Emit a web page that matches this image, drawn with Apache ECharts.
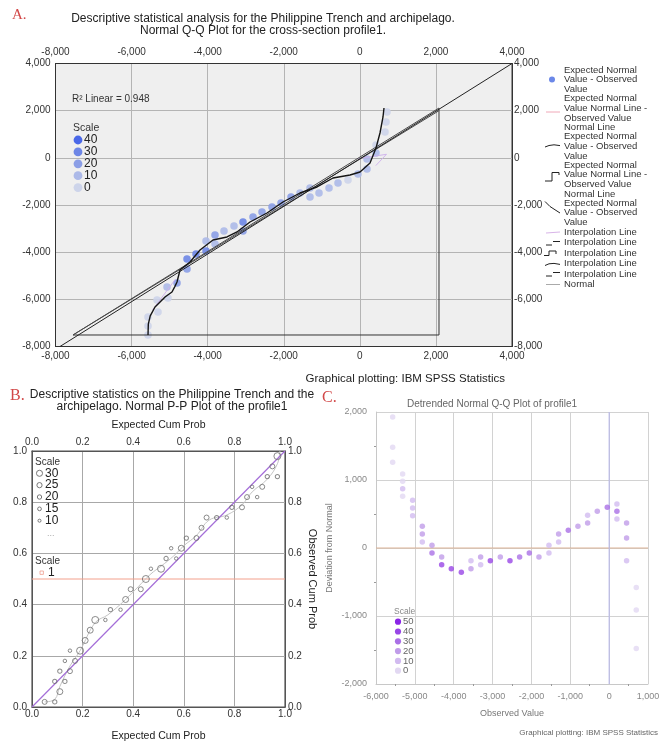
<!DOCTYPE html>
<html><head><meta charset="utf-8">
<script src="https://cdn.jsdelivr.net/npm/echarts@6/dist/echarts.min.js"></script>
<style>html,body{margin:0;padding:0;background:#fff}#c{width:667px;height:743px}</style>
</head><body><div id="c"></div>
<script>
// ---------- Panel A : Normal Q-Q plot ----------
const qqTickMin = -8000, qqTickMax = 4000, qqTickStep = 2000;
// [observed value, expected normal value, scale]
const qqPoints = [
 [-5568,-7512,0],[-5568,-7130,0],[-5568,-6748,0],[-5306,-6536,0],[-5332,-6028,0],
 [-5043,-5943,0],[-5069,-5476,10],[-4806,-5307,20],[-4543,-4713,20],[-4543,-4289,30],
 [-4307,-4077,30],[-4044,-3950,30],[-4044,-3526,10],[-3807,-3653,10],[-3807,-3272,20],
 [-3571,-3102,10],[-3308,-2890,10],[-3071,-2721,30],[-3071,-3102,20],[-2808,-2509,20],
 [-2572,-2296,20],[-2309,-2084,20],[-2072,-1915,20],[-1809,-1661,20],[-1573,-1491,10],
 [-1310,-1661,10],[-1310,-1279,10],[-1073,-1491,10],[-810,-1279,10],[-574,-1067,10],
 [-311,-940,0],[-48,-685,10],[188,-473,10],[188,-49,10],[425,205,10],[425,544,0],
 [662,1096,0],[688,1520,0],[714,1944,0]
];
const qqInterp = [
 [-5568,-7512],[-5560,-7050],[-5510,-6700],[-5384,-6325],[-5121,-5900],[-4938,-5688],
 [-4860,-5450],[-4806,-5264],[-4727,-4756],[-4464,-4416],[-4201,-3908],[-3860,-3484],
 [-3492,-3356],[-3229,-3144],[-2887,-2721],[-2440,-2339],[-2020,-1873],[-1573,-1491],
 [-1126,-1236],[-705,-855],[-258,-728],[5,-601],[268,-219],[425,417],[530,1053],
 [609,1732],[635,2113]
];
const qqFaintA = [[-5450,-6450],[-4850,-5150]];
const qqFaintB = [[-60,-40],[700,150],[420,-330]];
const qqRefLine = [[-7882,-8000],[4000,4000]];
const qqNormalLine1 = [[-7540,-7512],[2081,2113]];
const qqNormalLine2 = [[-7540,-7512],[2081,2000]];
const qqFrame = [[-7540,-7512],[2081,-7512],[2081,2113]];
const qqScaleColors = {0:'#cdd4ea',10:'#acb9e8',20:'#8b9ee6',30:'#6d86e6',40:'#4a68e8'};
const qqScaleLegend = [40,30,20,10,0];
const rSquared = '0.948';

// ---------- Panel B : Normal P-P plot ----------
const ppTickMin = 0, ppTickMax = 1, ppTickStep = 0.2;
// [expected cum prob, observed cum prob, scale]
const ppPoints = [
 [0.05,0.02,20],[0.09,0.02,15],[0.09,0.10,15],[0.11,0.06,25],[0.11,0.14,15],
 [0.13,0.10,15],[0.13,0.18,10],[0.15,0.14,20],[0.15,0.22,10],[0.17,0.18,20],
 [0.19,0.22,30],[0.21,0.26,25],[0.23,0.30,25],[0.25,0.34,30],[0.29,0.34,10],
 [0.31,0.38,15],[0.35,0.38,10],[0.37,0.42,25],[0.39,0.46,20],[0.43,0.46,20],
 [0.45,0.50,30],[0.47,0.54,10],[0.51,0.54,30],[0.53,0.58,15],[0.55,0.62,10],
 [0.57,0.58,10],[0.59,0.62,25],[0.61,0.66,15],[0.65,0.66,20],[0.67,0.70,20],
 [0.69,0.74,20],[0.73,0.74,15],[0.77,0.74,10],[0.79,0.78,15],[0.83,0.78,20],
 [0.85,0.82,20],[0.89,0.82,10],[0.87,0.86,10],[0.91,0.86,20],[0.93,0.90,15],
 [0.97,0.90,15],[0.95,0.94,20],[0.97,0.98,30]
];
const ppInterp = [
 [0.05,0.02],[0.09,0.03],[0.11,0.08],[0.15,0.16],[0.19,0.22],[0.25,0.33],[0.30,0.36],
 [0.37,0.42],[0.42,0.47],[0.47,0.52],[0.51,0.55],[0.56,0.59],[0.60,0.63],[0.65,0.67],
 [0.70,0.73],[0.77,0.75],[0.83,0.79],[0.87,0.84],[0.93,0.89],[0.97,0.95],[0.98,1.0]
];
const ppDiagonal = [[0,0],[1,1]];
const ppRefLine = [[0,0.5],[1,0.5]];
const ppScaleSizes = {30:7,25:6,20:5,15:4.3,10:3.5};
const ppScaleLegend = [30,25,20,15,10];

// ---------- Panel C : Detrended normal Q-Q plot ----------
const dqXMin = -6000, dqXMax = 1000, dqXStep = 1000;
const dqYMin = -2000, dqYMax = 2000, dqYStep = 1000;
// [observed value, deviation from normal, scale]
const dqPoints = [
 [-5571,1926,0],[-5571,1480,0],[-5571,1260,0],[-5314,1088,0],[-5314,980,0],[-5314,873,10],
 [-5314,760,0],[-5057,701,10],[-5057,588,10],[-5057,475,10],[-4808,319,20],[-4808,206,20],
 [-4808,88,10],[-4559,39,20],[-4559,-74,30],[-4310,-132,20],[-4310,-245,40],[-4062,-304,40],
 [-3804,-358,40],[-3556,-186,10],[-3556,-304,20],[-3307,-132,20],[-3307,-245,10],
 [-3058,-186,40],[-2801,-132,20],[-2552,-186,40],[-2304,-132,30],[-2055,-74,30],
 [-1806,-132,20],[-1549,39,10],[-1549,-74,10],[-1300,206,20],[-1300,88,10],[-1051,260,30],
 [-803,319,20],[-554,480,10],[-554,368,20],[-305,539,20],[-48,598,30],[200,647,10],
 [200,539,30],[200,426,10],[449,368,20],[449,147,20],[449,-186,10],[698,-581,0],
 [698,-911,0],[698,-1478,0]
];
const dqZeroX = [[0,-2000],[0,2000]];
const dqZeroY = [[-6000,0],[1000,0]];
const dqScaleColors = {0:'#e2d8f2',10:'#d2bbf0',20:'#c09ce9',30:'#aa70e6',40:'#9846e6',50:'#8a24e6'};
const dqScaleLegend = [50,40,30,20,10,0];

// ---------- helpers ----------
const FONT = '"Liberation Sans", Arial, Helvetica, sans-serif';
const SERIF = '"Liberation Serif", "Times New Roman", serif';
const fmt = v => String(v).replace(/\B(?=(\d{3})+(?!\d))/g, ',');
function txt(x, y, text, size, o) {
  return {type:'text', x, y, silent:true, z:100,
    style:Object.assign({text, fill:'#222', font:size+'px '+FONT, align:'left', verticalAlign:'middle'}, o||{})};
}
function pl(points, stroke, w) {
  return {type:'polyline', silent:true, z:100, shape:{points}, style:{stroke, lineWidth:w||1, fill:null}};
}
function circ(cx, cy, r, fill, stroke) {
  return {type:'circle', silent:true, z:100, shape:{cx, cy, r},
    style:stroke ? {fill:'rgba(0,0,0,0)', stroke, lineWidth:1} : {fill}};
}

const graphics = [];
// Titles and labels
graphics.push(txt(12, 15, 'A.', 15, {font:'15px '+SERIF, fill:'#d24848'}));
graphics.push(txt(263, 19, 'Descriptive statistical analysis for the Philippine Trench and archipelago.', 12, {align:'center'}));
graphics.push(txt(263, 31, 'Normal Q-Q Plot for the cross-section profile1.', 12, {align:'center'}));
graphics.push(txt(505, 379, 'Graphical plotting: IBM SPSS Statistics', 11.5, {align:'right'}));
graphics.push(txt(72, 99, 'R² Linear = ' + rSquared, 10, {fill:'#333'}));
graphics.push(txt(73, 128, 'Scale', 10.5, {fill:'#333'}));
qqScaleLegend.forEach((s, i) => {
  graphics.push(circ(78, 140 + i * 11.9, 4.4, qqScaleColors[s]));
  graphics.push(txt(84, 140 + i * 11.9, String(s), 12, {fill:'#222'}));
});
// Legend of panel A
const legA = [
  {y:70, lines:['Expected Normal','Value - Observed','Value']},
  {y:98.5, lines:['Expected Normal','Value Normal Line -','Observed Value','Normal Line']},
  {y:136.5, lines:['Expected Normal','Value - Observed','Value']},
  {y:165, lines:['Expected Normal','Value Normal Line -','Observed Value','Normal Line']},
  {y:203, lines:['Expected Normal','Value - Observed','Value']},
  {y:232.5, lines:['Interpolation Line']},
  {y:242.8, lines:['Interpolation Line']},
  {y:253.2, lines:['Interpolation Line']},
  {y:263.7, lines:['Interpolation Line']},
  {y:274.2, lines:['Interpolation Line']},
  {y:284.5, lines:['Normal']}
];
legA.forEach(it => {
  graphics.push(txt(564, it.y - 4.85, it.lines.join('\n'), 9.5, {verticalAlign:'top', lineHeight:9.7, fill:'#333'}));
});
graphics.push(circ(552, 79.5, 3, '#6b88e8'));
graphics.push(pl([[546,112],[560,112]], '#f0a8b8'));
graphics.push(pl([[545,147],[549,145.5],[554,144.8],[560,145.6]], '#222'));
graphics.push(pl([[545,181],[552,181],[552,172.5],[559,172.5],[559,175]], '#222'));
graphics.push(pl([[545,201.5],[550,206.5],[560,213]], '#222'));
graphics.push(pl([[546,233],[560,232]], '#d8b4e8'));
graphics.push(pl([[546,245],[552,245]], '#222'));
graphics.push(pl([[553,241.5],[560,241.5]], '#222'));
graphics.push(pl([[544,255.5],[549,255.5],[549,251],[556,251],[556,254]], '#222'));
graphics.push(pl([[545,265.5],[549,263.8],[554,263.4],[560,264.4]], '#222'));
graphics.push(pl([[546,276],[552,276]], '#222'));
graphics.push(pl([[553,272.5],[560,272.5]], '#222'));
graphics.push(pl([[546,284.5],[560,284.5]], '#aaa'));

// Panel B titles & legend
graphics.push(txt(10, 396, 'B.', 16, {font:'16px '+SERIF, fill:'#d24848'}));
graphics.push(txt(172, 395, 'Descriptive statistics on the Philippine Trench and the', 12, {align:'center'}));
graphics.push(txt(172, 407, 'archipelago. Normal P-P Plot of the profile1', 12, {align:'center'}));
graphics.push(txt(35, 462, 'Scale', 10, {fill:'#333'}));
ppScaleLegend.forEach((s, i) => {
  graphics.push(circ(39.5, 473.3 + i * 11.85, ppScaleSizes[s] / 2.3, null, '#777'));
  graphics.push(txt(45, 473.3 + i * 11.85, String(s), 12, {fill:'#222'}));
});
graphics.push(txt(47, 534, '...', 9, {fill:'#aaa'}));
graphics.push(txt(35, 561, 'Scale', 10, {fill:'#333'}));
graphics.push({type:'rect', silent:true, z:100, shape:{x:40, y:571, width:3.4, height:3.4}, style:{fill:'rgba(0,0,0,0)', stroke:'#f0a090', lineWidth:0.8}});
graphics.push(txt(48, 573, '1', 12, {fill:'#222'}));

// Panel C titles & legend
graphics.push(txt(322, 398, 'C.', 16, {font:'16px '+SERIF, fill:'#d24848'}));
graphics.push(txt(492, 404, 'Detrended Normal Q-Q Plot of profile1', 10, {align:'center', fill:'#666'}));
graphics.push(txt(394, 612, 'Scale', 8.5, {fill:'#888'}));
dqScaleLegend.forEach((s, i) => {
  graphics.push(circ(398, 621.7 + i * 9.8, 3.1, dqScaleColors[s]));
  graphics.push(txt(403, 621.7 + i * 9.8, String(s), 9.5, {fill:'#666'}));
});
graphics.push(txt(658, 733, 'Graphical plotting: IBM SPSS Statistics', 8, {align:'right', fill:'#666'}));

// ---------- axes ----------
const lblA = {formatter: fmt, fontSize:10, color:'#333', fontFamily:FONT};
const xAxes = [
  {gridIndex:0, type:'value', position:'bottom', min:qqTickMin, max:qqTickMax, interval:qqTickStep,
   axisLine:{show:true, onZero:false, lineStyle:{color:'#333'}}, axisTick:{show:false},
   axisLabel:Object.assign({margin:5}, lblA), splitLine:{show:true, lineStyle:{color:'#b4b4b4'}}},
  {gridIndex:0, type:'value', position:'top', min:qqTickMin, max:qqTickMax, interval:qqTickStep,
   axisLine:{show:true, onZero:false, lineStyle:{color:'#333'}}, axisTick:{show:false},
   axisLabel:Object.assign({margin:6}, lblA), splitLine:{show:false}},
  {gridIndex:1, type:'value', position:'bottom', min:ppTickMin, max:ppTickMax, interval:ppTickStep,
   name:'Expected Cum Prob', nameLocation:'middle', nameGap:24,
   nameTextStyle:{fontSize:10.5, color:'#222', fontFamily:FONT},
   axisLine:{show:true, onZero:false, lineStyle:{color:'#555'}}, axisTick:{show:false},
   axisLabel:{formatter:v=>v.toFixed(1), fontSize:10, color:'#333', fontFamily:FONT, margin:2},
   splitLine:{show:true, lineStyle:{color:'#a8a8a8'}}},
  {gridIndex:1, type:'value', position:'top', min:ppTickMin, max:ppTickMax, interval:ppTickStep,
   name:'Expected Cum Prob', nameLocation:'middle', nameGap:20,
   nameTextStyle:{fontSize:10.5, color:'#222', fontFamily:FONT},
   axisLine:{show:true, onZero:false, lineStyle:{color:'#555'}}, axisTick:{show:false},
   axisLabel:{formatter:v=>v.toFixed(1), fontSize:10, color:'#333', fontFamily:FONT, margin:4},
   splitLine:{show:false}},
  {gridIndex:2, type:'value', position:'bottom', min:dqXMin, max:dqXMax, interval:dqXStep,
   name:'Observed Value', nameLocation:'middle', nameGap:25,
   nameTextStyle:{fontSize:9, color:'#777', fontFamily:FONT},
   axisLine:{show:true, onZero:false, lineStyle:{color:'#c8c8c8'}}, axisTick:{show:false},
   minorTick:{show:true, splitNumber:2, length:2, lineStyle:{color:'#999'}},
   axisLabel:{formatter:fmt, fontSize:9, color:'#888', fontFamily:FONT, margin:8},
   splitLine:{show:true, lineStyle:{color:'#d2d2d2'}}}
];
const yAxes = [
  {gridIndex:0, type:'value', position:'left', min:qqTickMin, max:qqTickMax, interval:qqTickStep,
   axisLine:{show:true, onZero:false, lineStyle:{color:'#333'}}, axisTick:{show:false},
   axisLabel:Object.assign({margin:5}, lblA), splitLine:{show:true, lineStyle:{color:'#b4b4b4'}}},
  {gridIndex:0, type:'value', position:'right', min:qqTickMin, max:qqTickMax, interval:qqTickStep,
   axisLine:{show:true, onZero:false, lineStyle:{color:'#333'}}, axisTick:{show:false},
   axisLabel:Object.assign({margin:2}, lblA), splitLine:{show:false}},
  {gridIndex:1, type:'value', position:'left', min:ppTickMin, max:ppTickMax, interval:ppTickStep,
   axisLine:{show:true, onZero:false, lineStyle:{color:'#555'}}, axisTick:{show:false},
   axisLabel:{formatter:v=>v.toFixed(1), fontSize:10, color:'#333', fontFamily:FONT, margin:5},
   splitLine:{show:true, lineStyle:{color:'#a8a8a8'}}},
  {gridIndex:1, type:'value', position:'right', min:ppTickMin, max:ppTickMax, interval:ppTickStep,
   name:'Observed Cum Prob', nameLocation:'middle', nameGap:22, nameRotate:-90,
   nameTextStyle:{fontSize:11, color:'#222', fontFamily:FONT},
   axisLine:{show:true, onZero:false, lineStyle:{color:'#555'}}, axisTick:{show:false},
   axisLabel:{formatter:v=>v.toFixed(1), fontSize:10, color:'#333', fontFamily:FONT, margin:3},
   splitLine:{show:false}},
  {gridIndex:2, type:'value', position:'left', min:dqYMin, max:dqYMax, interval:dqYStep,
   name:'Deviation from Normal', nameLocation:'middle', nameGap:42, nameRotate:90,
   nameTextStyle:{fontSize:9, color:'#777', fontFamily:FONT},
   axisLine:{show:true, onZero:false, lineStyle:{color:'#c8c8c8'}}, axisTick:{show:false},
   minorTick:{show:true, splitNumber:2, length:2, lineStyle:{color:'#999'}},
   axisLabel:{formatter:fmt, fontSize:9, color:'#888', fontFamily:FONT, margin:9},
   splitLine:{show:true, lineStyle:{color:'#d2d2d2'}}}
];

function lineS(data, xi, yi, color, w, extra) {
  return Object.assign({type:'line', data, xAxisIndex:xi, yAxisIndex:yi, symbol:'none', silent:true,
    lineStyle:{color, width:w||1}, z:3}, extra||{});
}

const series = [
  // A
  {type:'scatter', data:qqPoints, xAxisIndex:0, yAxisIndex:0, symbolSize:7.5, z:2,
   itemStyle:{color:p=>qqScaleColors[p.value[2]], opacity:0.9}},
  lineS(qqFaintA, 0, 0, 'rgba(205,175,235,0.9)', 1),
  lineS(qqFaintB, 0, 0, 'rgba(205,175,235,0.9)', 1),
  lineS(qqFrame, 0, 0, '#333', 1),
  lineS(qqNormalLine1, 0, 0, '#4a4a4a', 1),
  lineS(qqNormalLine2, 0, 0, '#4a4a4a', 1),
  lineS(qqRefLine, 0, 0, '#222', 1),
  lineS(qqInterp, 0, 0, '#151515', 1.4, {smooth:false, z:4}),
  // B
  lineS(ppRefLine, 2, 2, '#f3a08c', 1),
  lineS(ppInterp, 2, 2, '#c4c4c4', 1, {smooth:0.4}),
  lineS(ppDiagonal, 2, 2, '#a46ed8', 1.2),
  {type:'scatter', data:ppPoints, xAxisIndex:2, yAxisIndex:2, z:5,
   symbolSize:v=>ppScaleSizes[v[2]],
   itemStyle:{color:'rgba(0,0,0,0)', borderColor:'#6e6e6e', borderWidth:1}},
  // C
  lineS(dqZeroY, 4, 4, '#dcb396', 1),
  lineS(dqZeroX, 4, 4, '#b4b4ea', 1),
  {type:'scatter', data:dqPoints, xAxisIndex:4, yAxisIndex:4, symbolSize:5.5, z:5,
   itemStyle:{color:p=>dqScaleColors[p.value[2]]}}
];

const chart = echarts.init(document.getElementById('c'), null, {renderer:'canvas'});
chart.setOption({
  backgroundColor:'#fff',
  animation:false,
  textStyle:{fontFamily:FONT},
  grid:[
    {left:55.5, top:63.5, width:456.5, height:283, show:true, backgroundColor:'#efefef', borderColor:'#3a3a3a', borderWidth:1, containLabel:false, outerBoundsMode:'none'},
    {left:32, top:451, width:253, height:256, show:true, backgroundColor:'#fff', borderColor:'#555', borderWidth:1.2, containLabel:false, outerBoundsMode:'none'},
    {left:376, top:412, width:272, height:272, show:false, containLabel:false, outerBoundsMode:'none'}
  ],
  xAxis:xAxes,
  yAxis:yAxes,
  series,
  graphic:graphics
});
</script>
</body></html>
